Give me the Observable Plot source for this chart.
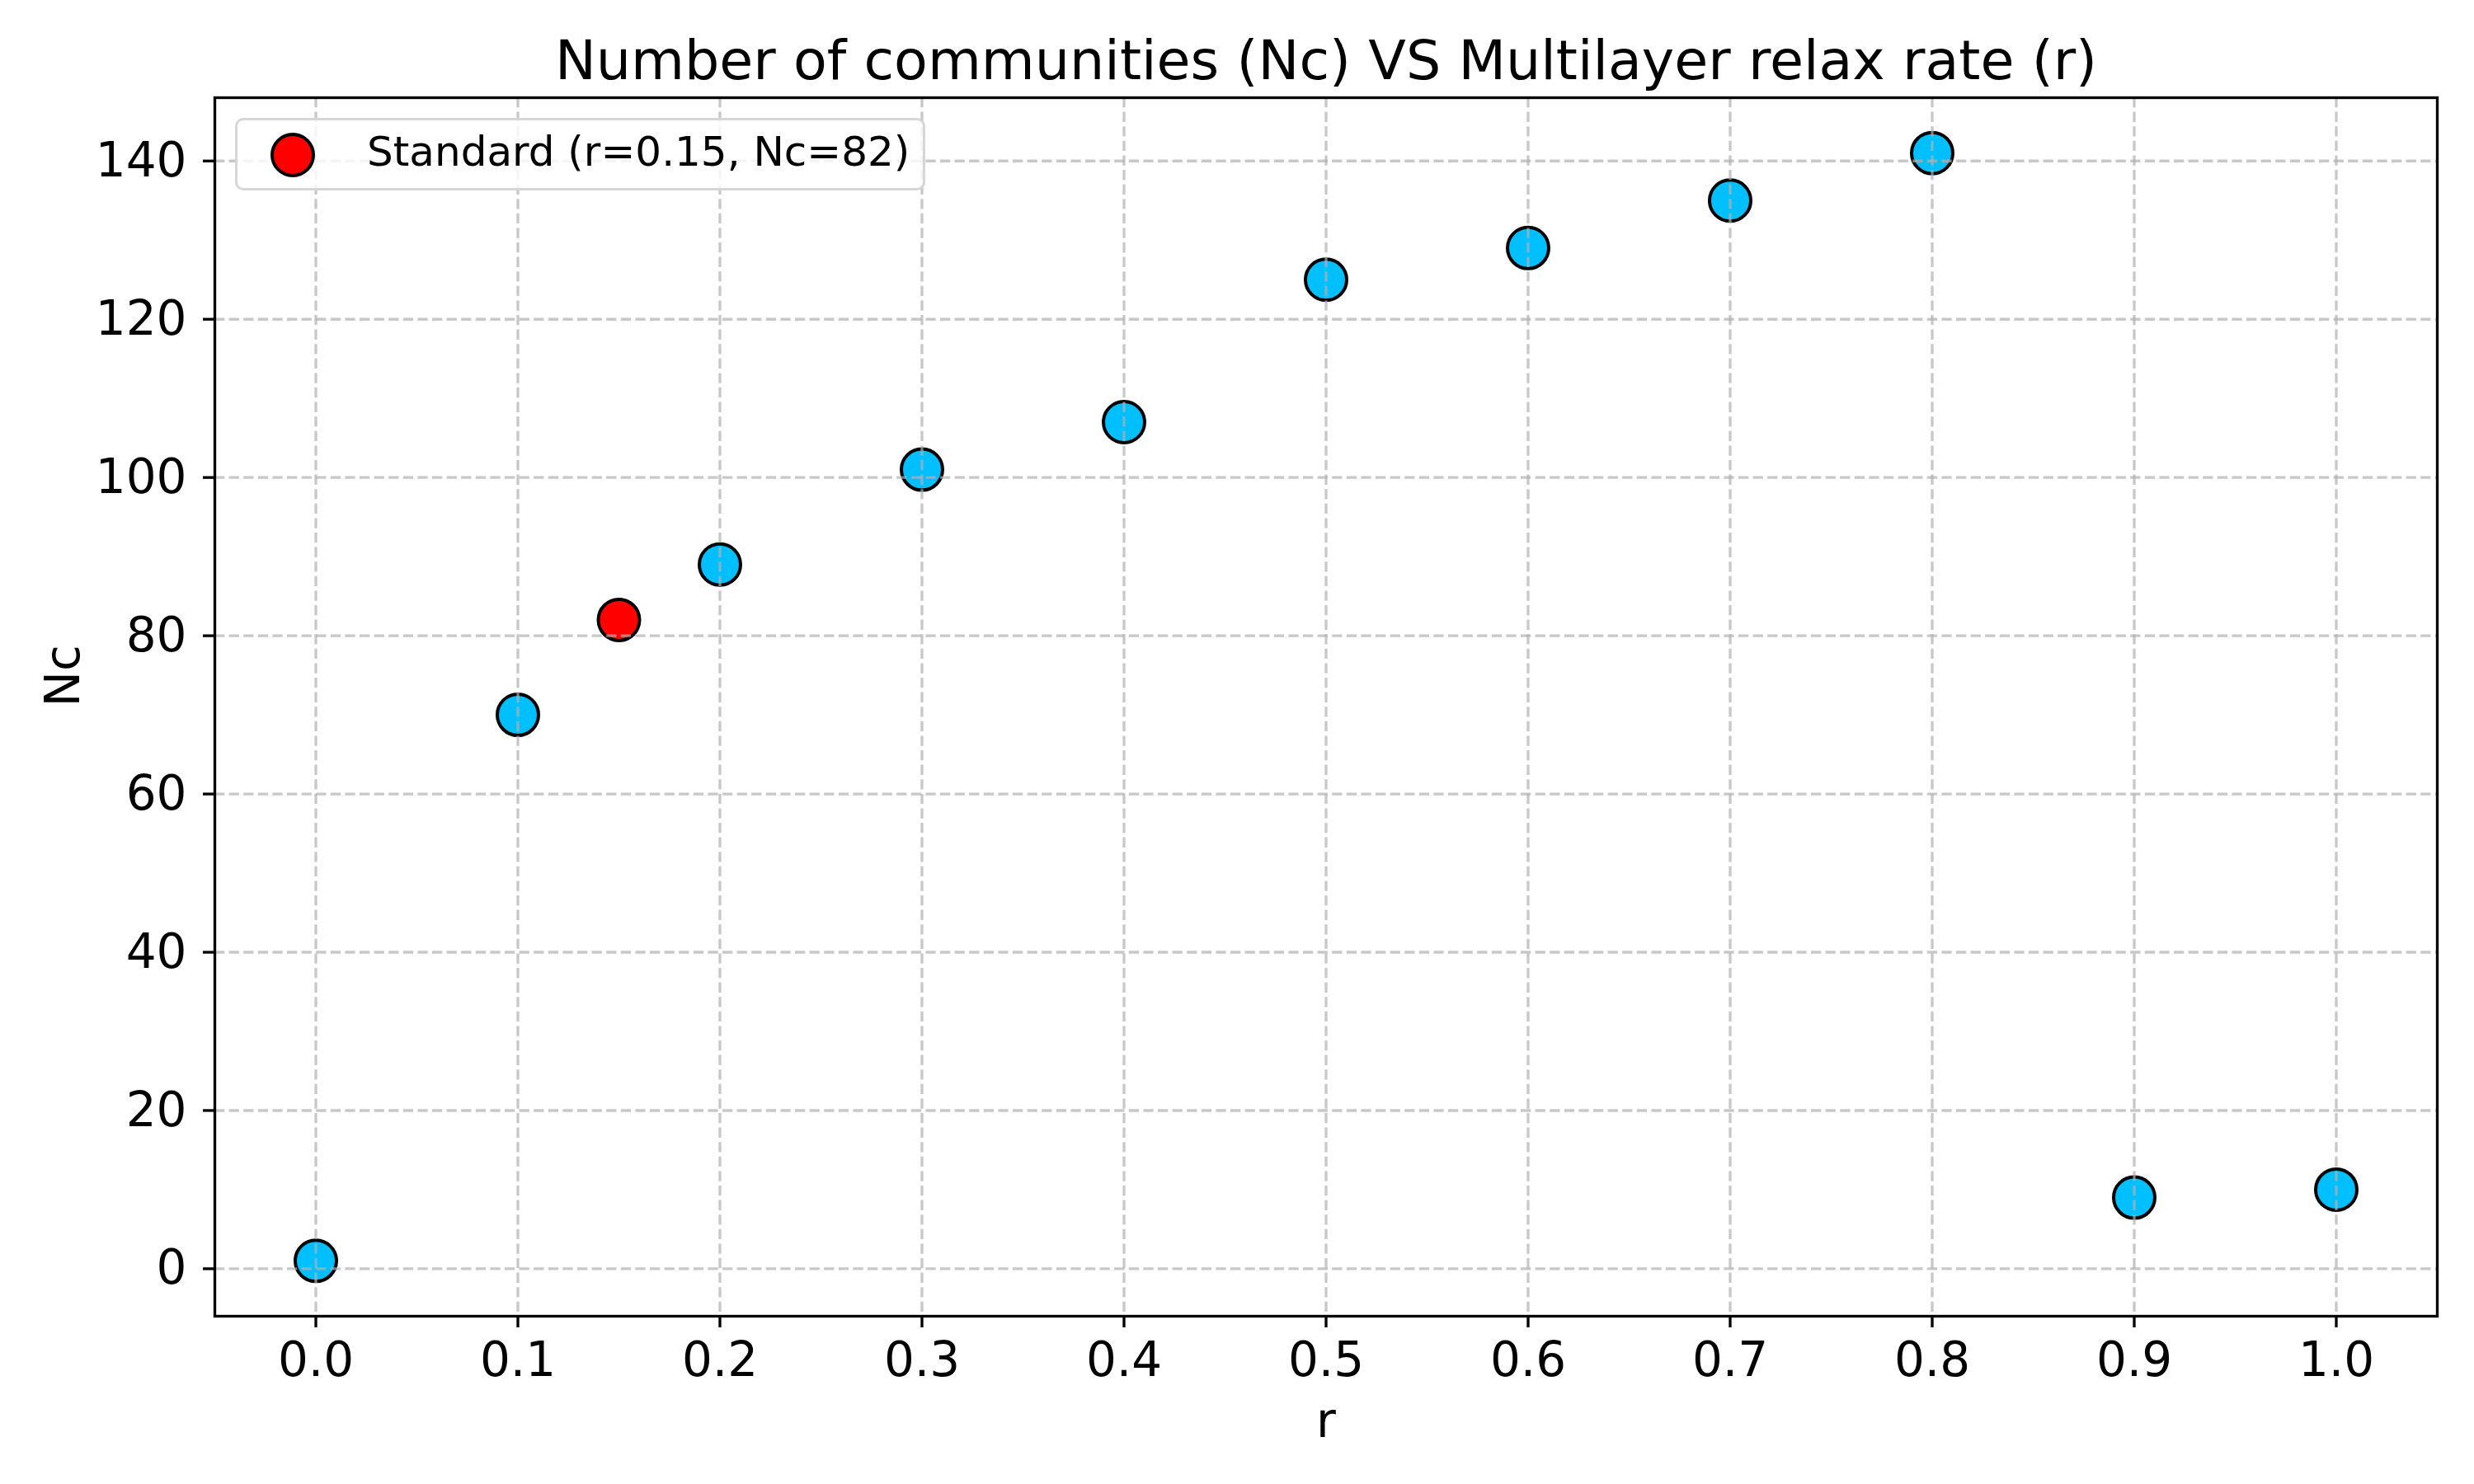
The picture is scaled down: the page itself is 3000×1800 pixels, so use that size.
<!DOCTYPE html>
<html>
<head>
<meta charset="utf-8">
<script src="https://cdn.jsdelivr.net/npm/d3@7"></script>
<script src="https://cdn.jsdelivr.net/npm/@observablehq/plot@0.6"></script>
<style>
  html, body { margin: 0; padding: 0; background: #fff; }
  #wrap { position: relative; width: 3000px; height: 1800px; font-family: "DejaVu Sans", sans-serif; }
  #legend {
    position: absolute; left: 285px; top: 143px; width: 837px; height: 88px;
    box-sizing: border-box; border: 3.3px solid #d6d6d6; border-radius: 10px;
    background: rgba(255,255,255,0.8);
  }
  #legend .sw {
    position: absolute; left: 40px; top: 15px; width: 54px; height: 54px;
    box-sizing: border-box; border: 4px solid #000; border-radius: 50%; background: red;
  }
  #leglab {
    position: absolute; left: 445px; top: 159px; font-size: 50px; line-height: 50px;
    white-space: nowrap; color: #000; font-family: "DejaVu Sans", sans-serif;
  }
</style>
</head>
<body>
<div id="wrap"></div>
<script>
// Data
const rValues = [0.0, 0.1, 0.2, 0.3, 0.4, 0.5, 0.6, 0.7, 0.8, 0.9, 1.0];
const ncValues = [1, 70, 89, 101, 107, 125, 129, 135, 141, 9, 10];
const standardR = [0.15];
const standardNc = [82];
const xTicks = [0, 0.1, 0.2, 0.3, 0.4, 0.5, 0.6, 0.7, 0.8, 0.9, 1.0];
const yTicks = [0, 20, 40, 60, 80, 100, 120, 140];
const titleText = "Number of communities (Nc) VS Multilayer relax rate (r)";
const xLabel = "r";
const yLabel = "Nc";
const legendLabel = "Standard (r=0.15, Nc=82)";

const points = rValues.map((r, i) => ({r, nc: ncValues[i]}));
const standard = standardR.map((r, i) => ({r, nc: standardNc[i]}));

const gridStyle = {stroke: "#b0b0b0", strokeOpacity: 0.7, strokeWidth: 3.33, strokeDasharray: "12.3,5.3"};

const chart = Plot.plot({
  width: 3000,
  height: 1800,
  marginLeft: 260,
  marginRight: 45,
  marginTop: 118,
  marginBottom: 204,
  style: {fontFamily: "DejaVu Sans, sans-serif", background: "#fff", color: "#000"},
  x: {domain: [-0.05, 1.05], ticks: xTicks, tickFormat: d3.format(".1f"), label: null},
  y: {domain: [-6, 148], ticks: yTicks, label: null},
  marks: [
    Plot.dot(points, {x: "r", y: "nc", r: 25, fill: "#00bfff", stroke: "#000", strokeWidth: 4}),
    Plot.dot(standard, {x: "r", y: "nc", r: 25, fill: "red", stroke: "#000", strokeWidth: 4}),
    Plot.gridX(xTicks, gridStyle),
    Plot.gridY(yTicks, gridStyle),
    Plot.axisX({ticks: xTicks, tickFormat: d3.format(".1f"), tickSize: 14, tickPadding: 17, strokeWidth: 3.33, fontSize: 58, label: null}),
    Plot.axisY({ticks: yTicks, tickSize: 14, tickPadding: 20, strokeWidth: 3.33, fontSize: 58, label: null}),
    Plot.frame({stroke: "#000", strokeWidth: 3.33}),
    Plot.text([titleText], {text: d => d, frameAnchor: "top", lineAnchor: "bottom", dy: -23, fontSize: 66.7, fill: "#000"}),
    Plot.text([xLabel], {text: d => d, frameAnchor: "bottom", lineAnchor: "bottom", dy: 146, fontSize: 58, fill: "#000"}),
    Plot.text([yLabel], {text: d => d, frameAnchor: "left", lineAnchor: "bottom", rotate: -90, dx: -165, fontSize: 58, fill: "#000"})
  ]
});

const wrap = document.getElementById("wrap");
wrap.appendChild(chart);
const legend = document.createElement("div");
legend.id = "legend";
legend.innerHTML = `<div class="sw"></div>`;
wrap.appendChild(legend);
const lab = document.createElement("div");
lab.id = "leglab";
lab.textContent = legendLabel;
wrap.appendChild(lab);
</script>
</body>
</html>
